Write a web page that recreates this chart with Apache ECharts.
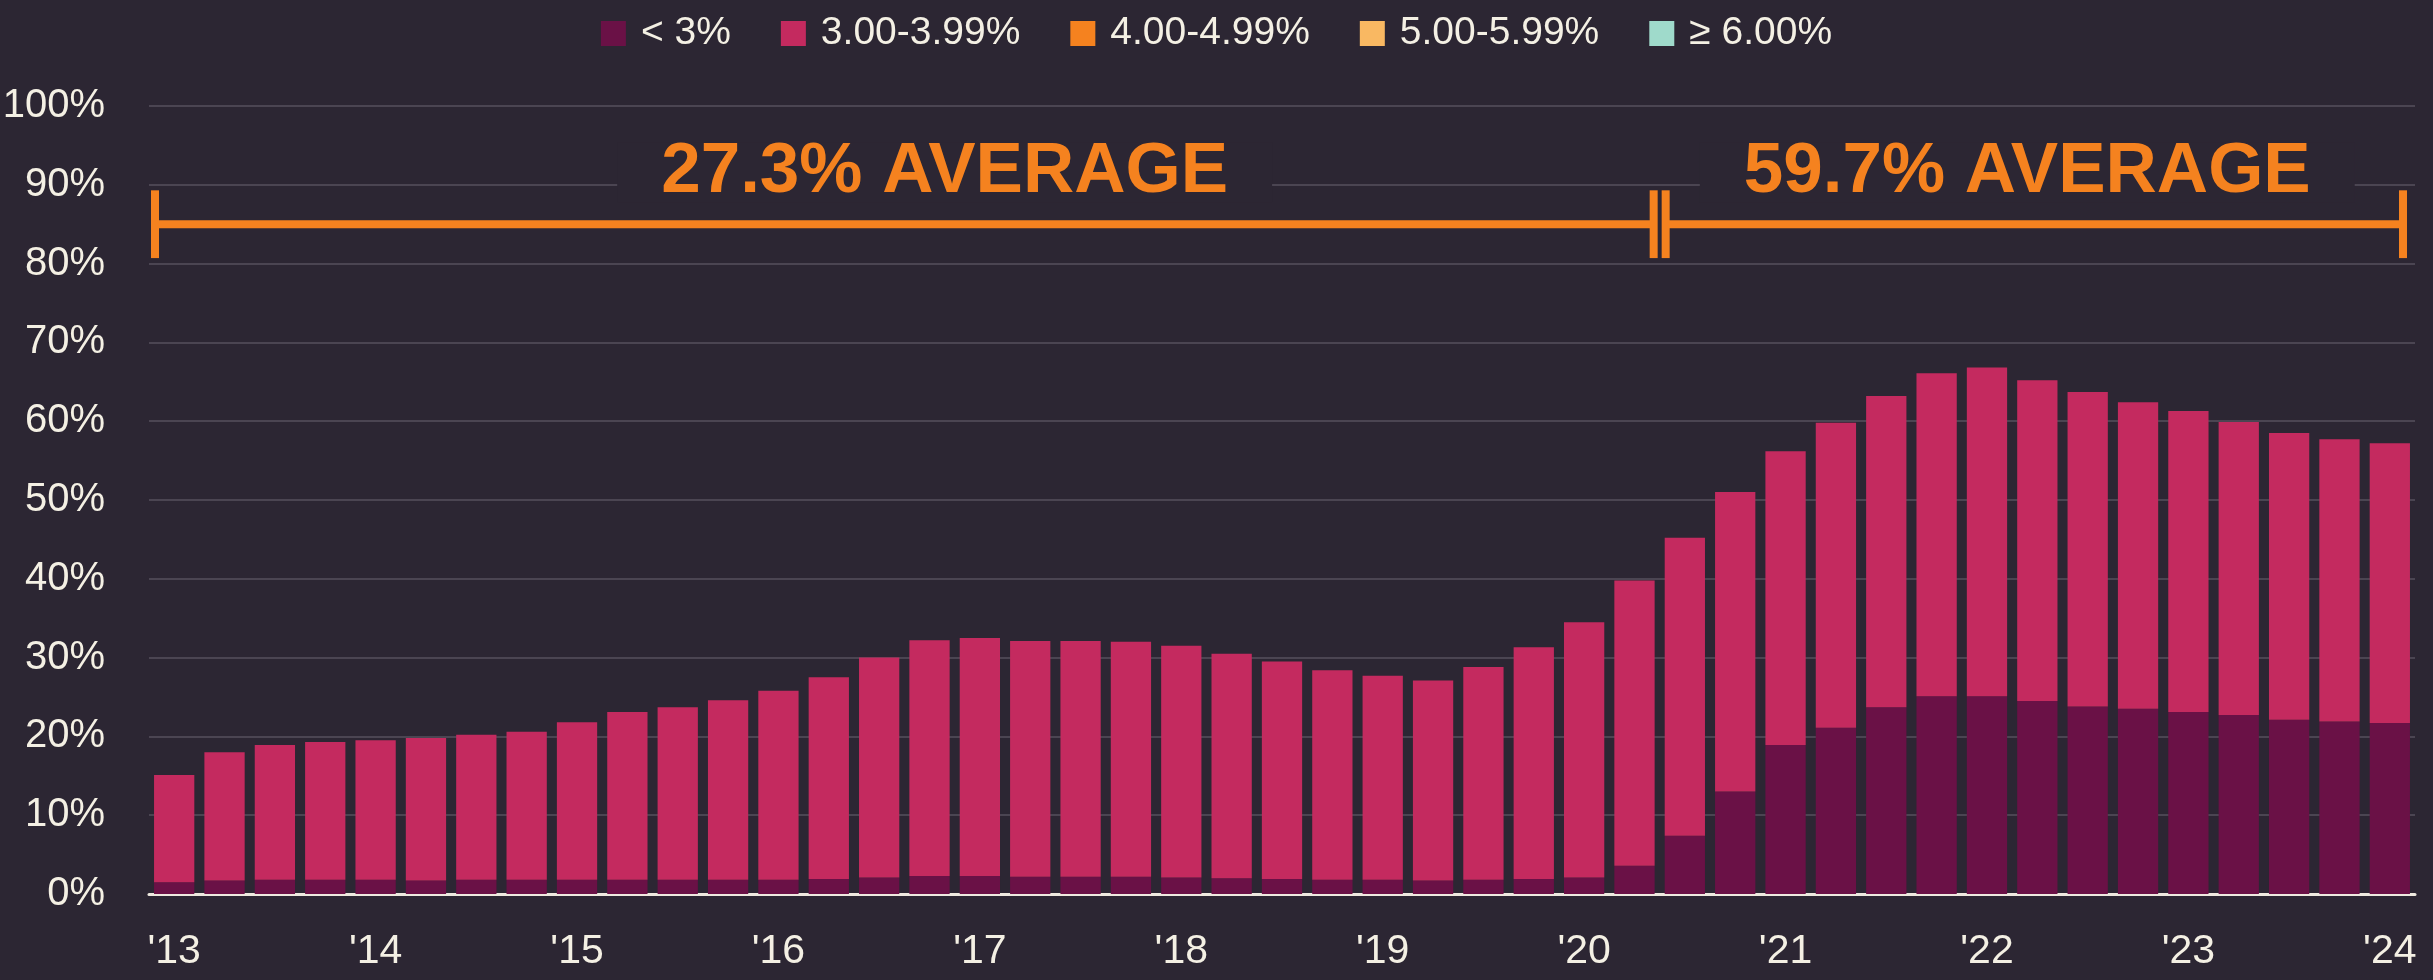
<!DOCTYPE html>
<html>
<head>
<meta charset="utf-8">
<script src="https://cdn.jsdelivr.net/npm/echarts@6/dist/echarts.min.js"></script>
<style>
  html, body { margin: 0; padding: 0; background: #2c2633; }
  #chart { width: 2433px; height: 980px; }
</style>
</head>
<body>
<div id="chart"></div>
<script>
// quarterly share of balances by rate bucket, 1Q13 - 1Q24
const quarters = [
  '1Q13', '2Q13', '3Q13', '4Q13', '1Q14', '2Q14', '3Q14', '4Q14',
  '1Q15', '2Q15', '3Q15', '4Q15', '1Q16', '2Q16', '3Q16', '4Q16',
  '1Q17', '2Q17', '3Q17', '4Q17', '1Q18', '2Q18', '3Q18', '4Q18',
  '1Q19', '2Q19', '3Q19', '4Q19', '1Q20', '2Q20', '3Q20', '4Q20',
  '1Q21', '2Q21', '3Q21', '4Q21', '1Q22', '2Q22', '3Q22', '4Q22',
  '1Q23', '2Q23', '3Q23', '4Q23', '1Q24',
];
const below3 = [
  1.5, 1.7, 1.8, 1.8, 1.8, 1.7, 1.8, 1.8, 1.8, 1.8, 1.8, 1.8, 1.8, 1.9, 2.1, 2.3,
  2.3, 2.2, 2.2, 2.2, 2.1, 2.0, 1.9, 1.8, 1.8, 1.7, 1.8, 1.9, 2.1, 3.6, 7.4, 13.0,
  18.9, 21.1, 23.7, 25.1, 25.1, 24.5, 23.8, 23.5, 23.1, 22.7, 22.1, 21.9, 21.7,
];
const from3to4 = [
  13.6, 16.3, 17.1, 17.5, 17.7, 18.1, 18.4, 18.8, 20.0, 21.3, 21.9, 22.8, 24.0, 25.6, 27.9, 29.9,
  30.2, 29.9, 29.9, 29.8, 29.4, 28.5, 27.6, 26.6, 25.9, 25.4, 27.0, 29.4, 32.4, 36.2, 37.8, 38.0,
  37.3, 38.7, 39.5, 41.0, 41.7, 40.7, 39.9, 38.9, 38.2, 37.2, 36.4, 35.8, 35.5,
];
const from4to5 = [];
const from5to6 = [];
const above6 = [];
const bucketNames = ['< 3%', '3.00-3.99%', '4.00-4.99%', '5.00-5.99%', '≥ 6.00%'];
const bucketColors = ['#6a1146', '#c42a5f', '#f5821f', '#f9b862', '#9fdacb'];

// averaging periods shown with the orange brackets
const periodFirst = ['1Q13', '3Q20'];
const periodLast = ['2Q20', '1Q24'];
const periodAverage = [27.3, 59.7];

const bg = '#2c2633';
const textColor = '#f4f0e4';
const orange = '#f5821f';
const font = "'Liberation Sans', Arial, sans-serif";

const bracketY = 85;
const tickHalf = 4.3;
const labelY = 91.6;
const labelX = [15.3, 36.8];
const insets = [[6, 6], [6, 12]];

const chart = echarts.init(document.getElementById('chart'));

function renderBracket(params, api) {
  const i = params.dataIndex;
  const x0 = api.coord([api.value(0) - 0.5, bracketY])[0] + insets[i][0];
  const x1 = api.coord([api.value(1) + 0.5, bracketY])[0] - insets[i][1];
  const y = api.coord([0, bracketY])[1];
  const yTop = api.coord([0, bracketY + tickHalf])[1];
  const yBot = api.coord([0, bracketY - tickHalf])[1];
  const lbl = api.coord([labelX[i], labelY]);
  const line = { stroke: orange, lineWidth: 8 };
  return {
    type: 'group',
    children: [
      { type: 'line', shape: { x1: x0, y1: y, x2: x1, y2: y }, style: line },
      { type: 'line', shape: { x1: x0, y1: yTop, x2: x0, y2: yBot }, style: line },
      { type: 'line', shape: { x1: x1, y1: yTop, x2: x1, y2: yBot }, style: line },
      {
        type: 'text',
        x: lbl[0],
        y: lbl[1],
        style: {
          text: api.value(2).toFixed(1) + '% AVERAGE',
          fill: orange,
          font: "bold 71px 'Liberation Sans', Arial, sans-serif",
          align: 'center',
          verticalAlign: 'middle',
          lineHeight: 60,
          backgroundColor: bg,
          padding: [0, 44],
        },
      },
    ],
  };
}

const option = {
  backgroundColor: bg,
  animation: false,
  legend: {
    data: bucketNames,
    top: 9,
    left: 'center',
    icon: 'rect',
    itemWidth: 25,
    itemHeight: 25,
    itemGap: 50,
    textStyle: {
      color: textColor,
      fontSize: 39,
      fontFamily: font,
      padding: [0, 0, 0, 10],
    },
  },
  grid: {
    left: 149,
    right: 18,
    top: 106,
    bottom: 86,
    containLabel: false,
    outerBoundsMode: 'none',
  },
  xAxis: [
    {
      type: 'category',
      data: quarters,
      axisTick: { show: false },
      axisLine: { lineStyle: { color: '#efe9e0', width: 3 } },
      axisLabel: {
        interval: 3,
        color: textColor,
        fontSize: 41,
        fontFamily: font,
        margin: 58,
        verticalAlign: 'middle',
        formatter: v => "'" + v.slice(2),
      },
    },
    {
      type: 'value',
      show: false,
      min: -0.5,
      max: quarters.length - 0.5,
    },
  ],
  yAxis: {
    type: 'value',
    min: 0,
    max: 100,
    interval: 10,
    axisLine: { show: false },
    axisTick: { show: false },
    axisLabel: {
      color: textColor,
      fontSize: 40,
      fontFamily: font,
      margin: 44,
      formatter: '{value}%',
    },
    splitLine: { lineStyle: { color: '#4b4552', width: 2 } },
  },
  series: [
    ...[below3, from3to4, from4to5, from5to6, above6].map((data, k) => ({
      name: bucketNames[k],
      type: 'bar',
      stack: 'share',
      data: data,
      barCategoryGap: '20%',
      itemStyle: { color: bucketColors[k] },
    })),
    {
      type: 'custom',
      xAxisIndex: 1,
      silent: true,
      clip: false,
      z: 10,
      renderItem: renderBracket,
      data: periodAverage.map((avg, i) => [
        quarters.indexOf(periodFirst[i]),
        quarters.indexOf(periodLast[i]),
        avg,
      ]),
    },
  ],
};

chart.setOption(option);
</script>
</body>
</html>
